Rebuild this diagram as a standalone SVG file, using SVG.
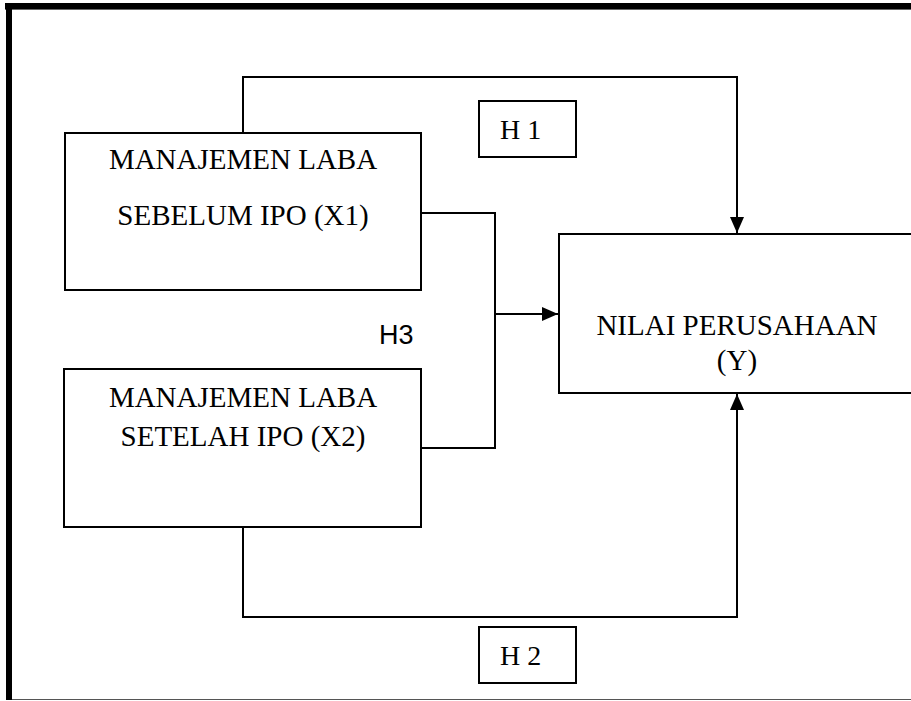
<svg xmlns="http://www.w3.org/2000/svg" width="911" height="701" viewBox="0 0 911 701">
<style>
.box{fill:#fff;stroke:#000;stroke-width:2}
.t{font-family:"Liberation Serif","Times New Roman",serif;font-size:29px;fill:#000;text-anchor:middle}
.ht{font-family:"Liberation Serif","Times New Roman",serif;font-size:28px;fill:#000}
.sans{font-family:"Liberation Sans",Arial,sans-serif;font-size:27px;fill:#000}
.wire{fill:none;stroke:#000;stroke-width:2}
</style>
<defs>
<marker id="arr" viewBox="0 0 16 14" refX="16" refY="7" markerWidth="16" markerHeight="14" markerUnits="userSpaceOnUse" orient="auto">
<path d="M0,0 L16,7 L0,14 Z" fill="#000"/>
</marker>
</defs>
<rect width="911" height="701" fill="#fff"/>
<g id="frame">
<rect x="5" y="3" width="906" height="6" fill="#000"/>
<line x1="5" y1="9.5" x2="911" y2="9.5" stroke="#666" stroke-width="1"/>
<rect x="6" y="3" width="6" height="697" fill="#000"/>
<line x1="12" y1="699.5" x2="911" y2="699.5" stroke="#555" stroke-width="1"/>
</g>
<g id="connectors">
<path class="wire" d="M243,133 V77 H737 V233" marker-end="url(#arr)"/>
<path class="wire" d="M421,213 H495 V448 H421"/>
<path class="wire" d="M495,314 H558" marker-end="url(#arr)"/>
<path class="wire" d="M243,527 V617 H737 V394" marker-end="url(#arr)"/>
</g>
<g id="x1">
<rect class="box" x="65" y="133" width="356" height="157"/>
<text class="t" x="243" y="169">MANAJEMEN LABA</text>
<text class="t" x="243" y="225">SEBELUM IPO (X1)</text>
</g>
<g id="x2">
<rect class="box" x="64" y="369" width="357" height="158"/>
<text class="t" x="243" y="407">MANAJEMEN LABA</text>
<text class="t" x="243" y="446">SETELAH IPO (X2)</text>
</g>
<g id="y">
<rect class="box" x="559" y="234" width="360" height="159"/>
<text class="t" x="737" y="335">NILAI PERUSAHAAN</text>
<text class="t" x="737" y="370">(Y)</text>
</g>
<g id="h1">
<rect class="box" x="479" y="101" width="97" height="56"/>
<text class="ht" x="500" y="139">H 1</text>
</g>
<g id="h2">
<rect class="box" x="479" y="627" width="97" height="56"/>
<text class="ht" x="500" y="665">H 2</text>
</g>
<g id="h3">
<text class="sans" x="379" y="344">H3</text>
</g>
</svg>
